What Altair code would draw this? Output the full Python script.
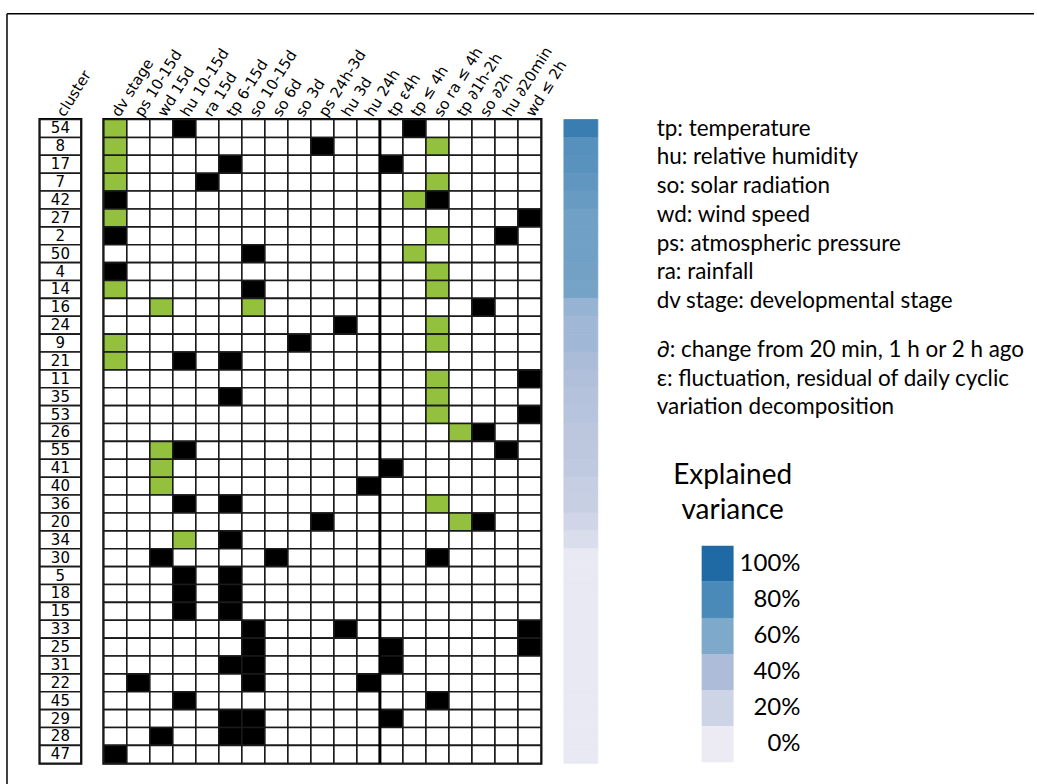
import altair as alt
import pandas as pd

# Row order of the clusters (top to bottom)
clusters = ["54", "8", "17", "7", "42", "27", "2", "50", "4", "14", "16", "24",
            "9", "21", "11", "35", "53", "26", "55", "41", "40", "36", "20", "34",
            "30", "5", "18", "15", "33", "25", "31", "22", "45", "29", "28", "47"]

# Weather / crop variables (columns)
variables = ["dv stage", "ps 10-15d", "wd 15d", "hu 10-15d", "ra 15d", "tp 6-15d",
             "so 10-15d", "so 6d", "so 3d", "ps 24h-3d", "hu 3d", "hu 24h",
             "tp ε4h", "tp ≤ 4h", "so ra ≤ 4h", "tp ∂1h-2h", "so ∂2h", "hu ∂20min", "wd ≤ 2h"]

# Explained variance (%) per cluster, same order as `clusters`
explained = [88, 76, 75, 72, 69, 66, 66, 66, 65, 64, 50, 46,
             46, 41, 38, 36, 34, 31, 30, 29, 25, 24, 18, 12,
             2, 2, 2, 2, 2, 2, 2, 2, 2, 2, 2, 2]

# Variables flagged per cluster (column indices into `variables`)
positive = {
    "54": [0], "8": [0, 14], "17": [0], "7": [0, 14], "42": [13], "27": [0],
    "2": [14], "50": [13], "4": [14], "14": [0, 14], "16": [2, 6], "24": [14],
    "9": [0, 14], "21": [0], "11": [14], "35": [14], "53": [14], "26": [15],
    "55": [2], "41": [2], "40": [2], "36": [14], "20": [15], "34": [3],
}
negative = {
    "54": [3, 13], "8": [9], "17": [5, 12], "7": [4], "42": [0, 14], "27": [18],
    "2": [0, 17], "50": [6], "4": [0], "14": [6], "16": [16], "24": [10],
    "9": [8], "21": [3, 5], "11": [18], "35": [5], "53": [18], "26": [16],
    "55": [3, 17], "41": [12], "40": [11], "36": [3, 5], "20": [9, 16], "34": [5],
    "30": [2, 7, 14], "5": [3, 5], "18": [3, 5], "15": [3, 5], "33": [6, 10, 18],
    "25": [6, 12, 18], "31": [5, 6, 12], "22": [1, 6, 11], "45": [3, 14],
    "29": [5, 6, 12], "28": [2, 5, 6], "47": [0],
}

# Key text on the right
key_lines_a = ["tp: temperature", "hu: relative humidity", "so: solar radiation",
               "wd: wind speed", "ps: atmospheric pressure", "ra: rainfall",
               "dv stage: developmental stage"]
key_lines_b = ["∂: change from 20 min, 1 h or 2 h ago",
               "ε: fluctuation, residual of daily cyclic",
               "variation decomposition"]

# Explained-variance colour key
levels = ["100%", "80%", "60%", "40%", "20%", "0%"]
level_values = [100, 80, 60, 40, 20, 0]
level_colors = ["#1f6aa5", "#4a8ab8", "#7fa9cb", "#adbdd9", "#cdd4e5", "#ecebf4"]

LABEL_FONT = "DejaVu Sans"
KEY_FONT = "Lato"
ROW_H = 645

# ---- tables -------------------------------------------------------------
grid_rows = []
for c in clusters:
    for i, v in enumerate(variables):
        state = "none"
        if i in positive.get(c, []):
            state = "positive"
        if i in negative.get(c, []):
            state = "negative"
        grid_rows.append({"cluster": c, "variable": v, "state": state})
grid_df = pd.DataFrame(grid_rows)

cl_df = pd.DataFrame({"cluster": clusters, "header": "cluster"})
var_df = pd.DataFrame({"cluster": clusters, "explained": explained})

y_rows = alt.Y("cluster:N", sort=clusters,
               scale=alt.Scale(domain=clusters, paddingInner=0, paddingOuter=0),
               axis=None)

top_axis = dict(orient="top", title=None, labelAngle=-58, ticks=False, domain=False,
                labelPadding=5, labelFont=LABEL_FONT, labelFontSize=15,
                labelColor="black")

# ---- cluster id column ---------------------------------------------------
cl_x = alt.X("header:N", scale=alt.Scale(paddingInner=0, paddingOuter=0),
             axis=alt.Axis(**top_axis))
cl_box = alt.Chart(cl_df).mark_rect(fill="white", stroke="#1a1a1a", strokeWidth=1.6).encode(
    x=cl_x, y=y_rows)
cl_txt = alt.Chart(cl_df).mark_text(font=LABEL_FONT, fontSize=15, color="black").encode(
    x=cl_x, y=y_rows, text="cluster:N")
# figure frame (top and left edges)
frame_top = alt.Chart(cl_df.head(1)).mark_rule(color="black", strokeWidth=1.5).encode(
    x=alt.value(-33), x2=alt.value(996), y=alt.value(-106))
frame_left = alt.Chart(cl_df.head(1)).mark_rule(color="black", strokeWidth=1.5).encode(
    x=alt.value(-33), y=alt.value(-106), y2=alt.value(680))
cluster_panel = alt.layer(cl_box, cl_txt, frame_top, frame_left).properties(
    width=41, height=ROW_H,
    view=alt.ViewBackground(stroke="black", strokeWidth=3))

# ---- variable grid -------------------------------------------------------
gx = alt.X("variable:N", sort=variables,
           scale=alt.Scale(domain=variables, paddingInner=0, paddingOuter=0),
           axis=alt.Axis(**top_axis))
cells = alt.Chart(grid_df).mark_rect(stroke="#1a1a1a", strokeWidth=1.6).encode(
    x=gx, y=y_rows,
    fill=alt.Fill("state:N",
                  scale=alt.Scale(domain=["none", "positive", "negative"],
                                  range=["white", "#93c13e", "black"]),
                  legend=None))
sep = alt.Chart(pd.DataFrame({"variable": ["tp ε4h"]})).mark_rule(
    color="black", strokeWidth=3).encode(
    x=alt.X("variable:N", sort=variables, bandPosition=0,
            scale=alt.Scale(domain=variables, paddingInner=0, paddingOuter=0)))
grid_panel = alt.layer(cells, sep).properties(
    width=438, height=ROW_H,
    view=alt.ViewBackground(stroke="black", strokeWidth=3))

# ---- explained variance bar ----------------------------------------------
var_scale = alt.Scale(domain=level_values[::-1], range=level_colors[::-1])
var_panel = alt.Chart(var_df).mark_rect(strokeWidth=0.8).encode(
    y=y_rows,
    color=alt.Color("explained:Q", scale=var_scale, legend=None),
    stroke=alt.Stroke("explained:Q", scale=var_scale, legend=None),
).properties(width=34, height=ROW_H)

# ---- key and colour legend -----------------------------------------------
key_a = alt.Chart(pd.DataFrame({"line": key_lines_a})).mark_text(
    align="left", baseline="alphabetic", font=KEY_FONT, fontSize=22.5, color="black").encode(
    x=alt.value(36),
    y=alt.Y("line:N", sort=key_lines_a,
            scale=alt.Scale(type="point", domain=key_lines_a, range=[16, 189], padding=0),
            axis=None),
    text="line:N")
key_b = alt.Chart(pd.DataFrame({"line": key_lines_b})).mark_text(
    align="left", baseline="alphabetic", font=KEY_FONT, fontSize=22.5, color="black").encode(
    x=alt.value(36),
    y=alt.Y("line:N", sort=key_lines_b,
            scale=alt.Scale(type="point", domain=key_lines_b, range=[238, 295], padding=0),
            axis=None),
    text="line:N")

lev_df = pd.DataFrame({"level": levels, "key": "swatch"})
lev_y = alt.Y("level:N", sort=levels,
              scale=alt.Scale(domain=levels, range=[427, 644], paddingInner=0, paddingOuter=0),
              axis=None)
swatch = alt.Chart(lev_df).mark_rect().encode(
    x=alt.X("key:N", scale=alt.Scale(range=[81, 113], paddingInner=0, paddingOuter=0), axis=None),
    y=lev_y,
    color=alt.Color("level:N", scale=alt.Scale(domain=levels, range=level_colors), legend=None))
swatch_lbl = alt.Chart(lev_df).mark_text(
    align="right", baseline="middle", font=KEY_FONT, fontSize=24, color="black").encode(
    x=alt.value(180), y=lev_y, text="level:N")
legend_title = alt.Chart(pd.DataFrame({"t": ["Explained\nvariance"]})).mark_text(
    align="center", baseline="alphabetic", font=KEY_FONT, fontSize=28, color="black",
    lineBreak="\n", lineHeight=35).encode(
    x=alt.value(112), y=alt.value(365), text="t:N")

right_panel = alt.layer(
    key_a, key_b, alt.layer(swatch, swatch_lbl), legend_title
).resolve_scale(y="independent", x="independent").properties(width=410, height=ROW_H)

chart = alt.hconcat(
    cluster_panel, grid_panel, var_panel, right_panel, spacing=23, bounds="flush"
).resolve_scale(
    x="independent", y="independent", color="independent", fill="independent",
    stroke="independent"
).properties(
    padding={"left": 4, "top": 10, "right": 0, "bottom": 0}, background="white"
).configure_view(stroke="transparent")

chart.save("out.html", embed_options={"renderer": "svg", "actions": False})
